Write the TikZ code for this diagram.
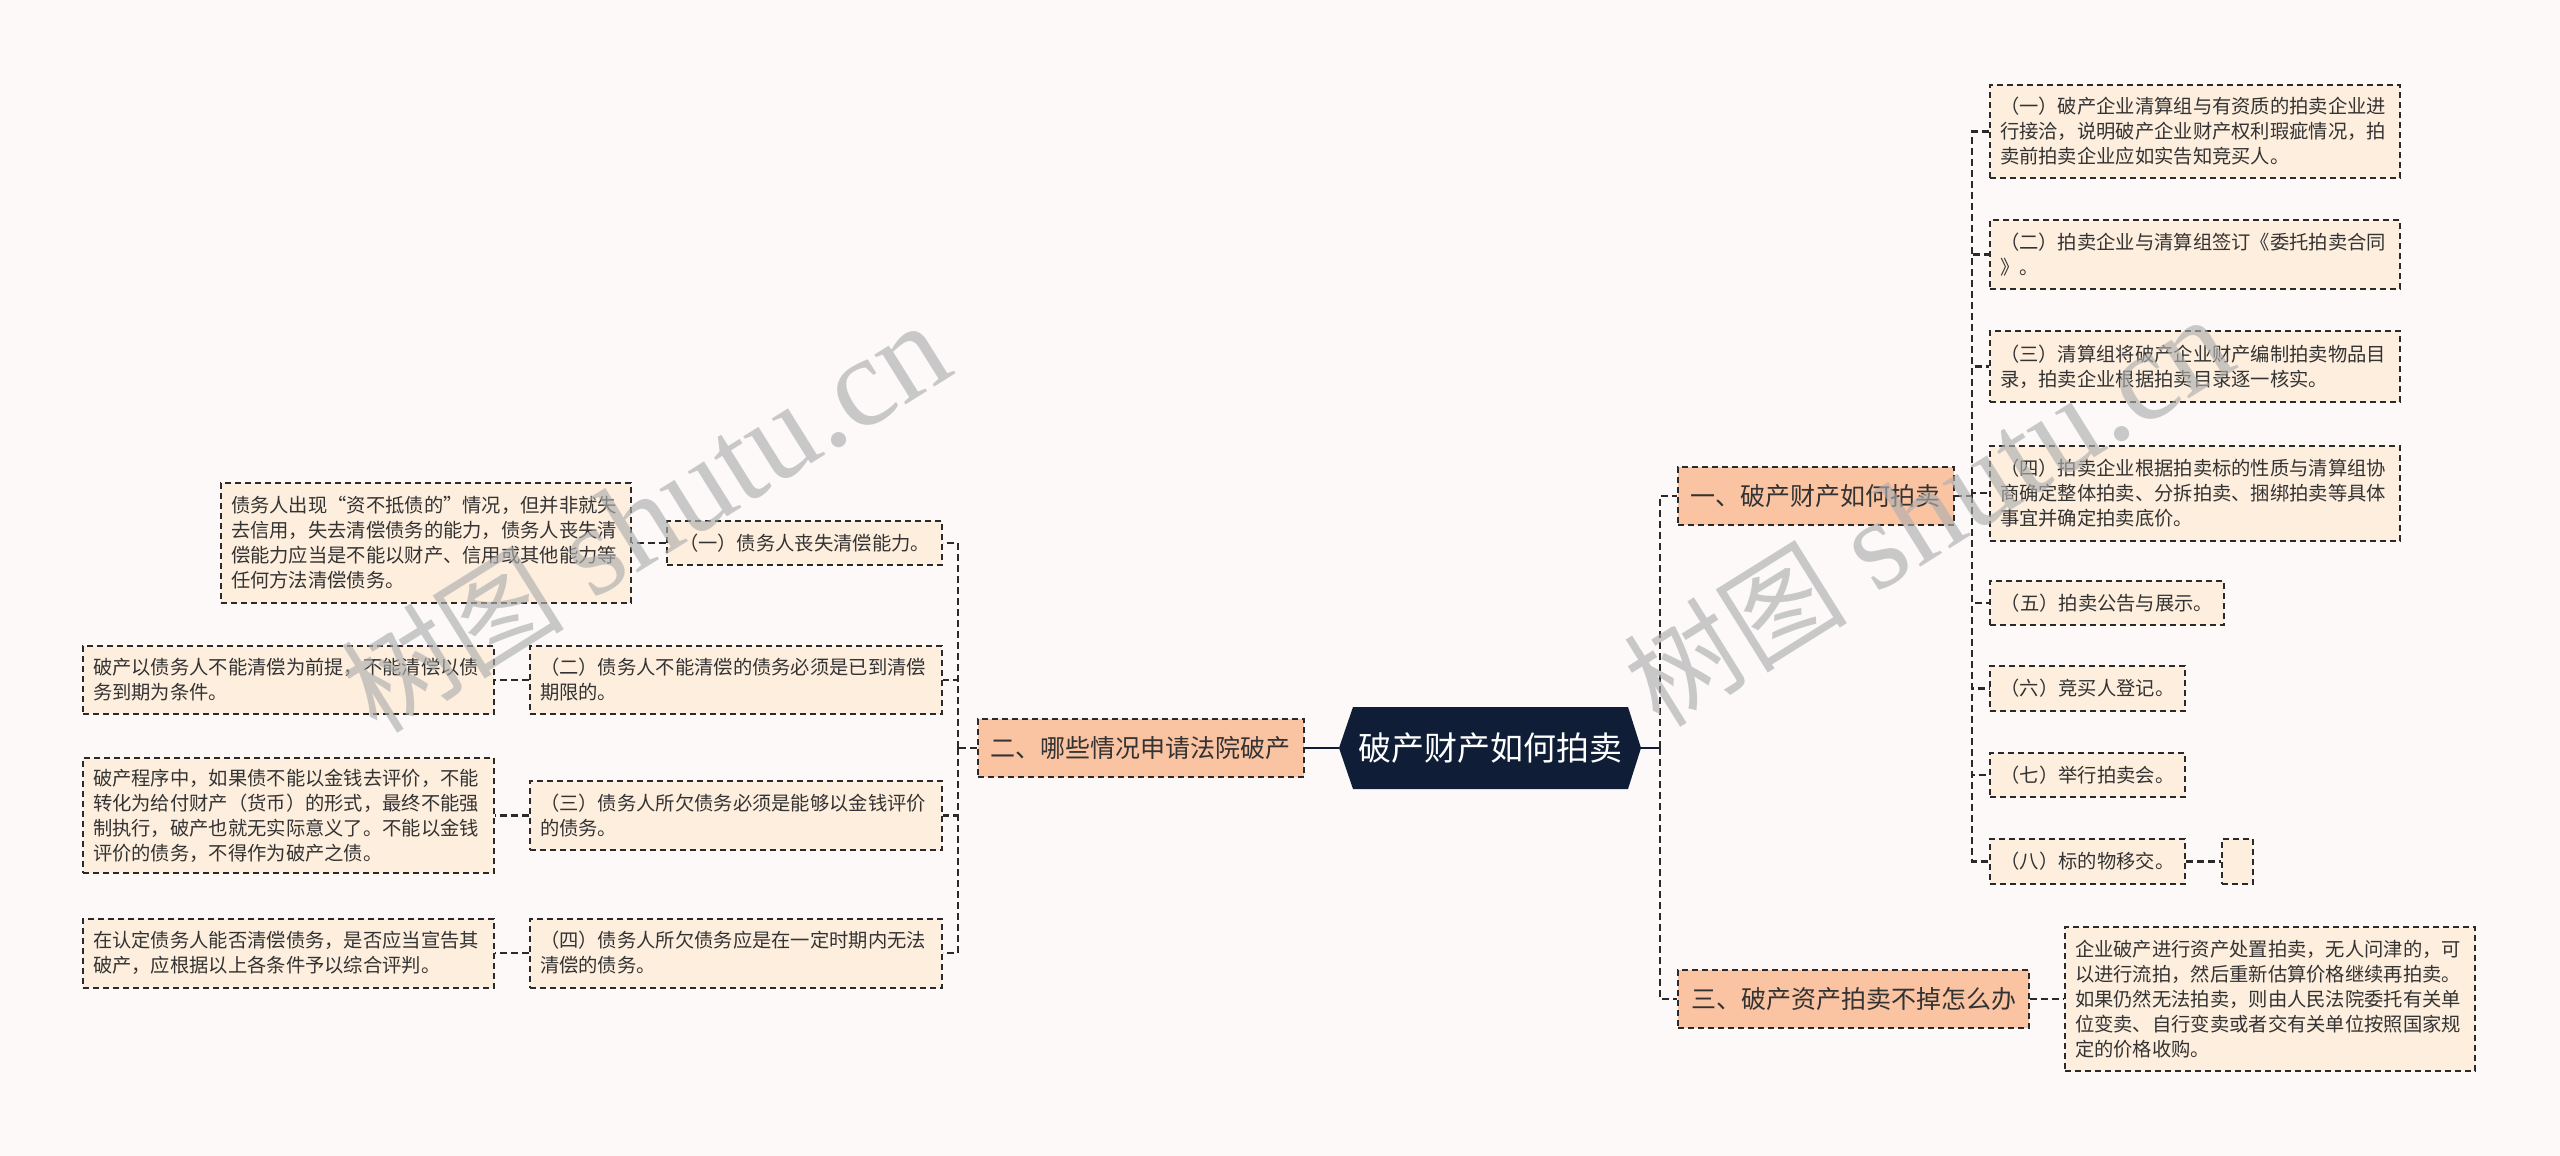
\documentclass[tikz,border=0pt]{standalone}
\usepackage{fontspec}
\setmainfont{Noto Sans CJK SC}
\newfontfamily\wmlatin{Liberation Serif}
\newfontfamily\wmcjk{Noto Sans CJK SC}
\definecolor{bg}{HTML}{FCF9F8}
\definecolor{leaf}{HTML}{FDEEDD}
\definecolor{lone}{HTML}{FAC3A2}
\definecolor{navy}{HTML}{0F1E36}
\definecolor{dkline}{HTML}{2A2A2A}
\definecolor{txt}{HTML}{333333}
\definecolor{wmgray}{HTML}{AFAFAF}
\tikzset{
  leafbox/.style={draw=dkline, line width=2pt, dash pattern=on 6pt off 4pt, fill=leaf, text=txt,
    font=\fontsize{19.3}{25}\selectfont, inner xsep=10pt, inner ysep=0pt, align=left, anchor=center},
  lonebox/.style={draw=dkline, line width=2pt, dash pattern=on 6pt off 4pt, fill=lone, text=txt,
    font=\fontsize{25}{30}\selectfont, inner xsep=13pt, inner ysep=0pt, minimum height=58pt, anchor=center},
  hexnode/.style={minimum width=302pt, minimum height=82pt, inner sep=0pt, text=white,
    font=\fontsize{33}{36}\selectfont},
  conn/.style={draw=dkline, line width=2.2pt, dash pattern=on 7pt off 4pt},
  rootline/.style={draw=navy, line width=2.5pt},
  wm/.style={text=wmgray, text opacity=0.65, inner sep=0pt}
}
\newcommand{\wmtext}{{\wmcjk\fontsize{112}{120}\selectfont 树图}\hspace{30pt}{\wmlatin\fontsize{128}{130}\selectfont shutu.cn}}
\begin{document}
\begin{tikzpicture}[x=1pt, y=-1pt]
\useasboundingbox (0,0) rectangle (2560,1156);
\fill[bg] (0,0) rectangle (2560,1156);

% central hexagon
\fill[navy] (1339,748) -- (1353,707) -- (1628,707) -- (1641,748) -- (1628,789) -- (1353,789) -- cycle;
\node[hexnode] (c) at (1490,748) {破产财产如何拍卖};

% level 1
\node[lonebox] (n1) at (1815.5,496) {一、破产财产如何拍卖};
\node[lonebox] (n2) at (1140.5,748) {二、哪些情况申请法院破产};
\node[lonebox] (n3) at (1853.5,999) {三、破产资产拍卖不掉怎么办};

% right children of n1
\node[leafbox, text width=390pt, minimum height=93pt] (R1) at (2195,131.5)
  {（一）破产企业清算组与有资质的拍卖企业进\\行接洽，说明破产企业财产权利瑕疵情况，拍\\卖前拍卖企业应如实告知竞买人。};
\node[leafbox, text width=390pt, minimum height=69pt] (R2) at (2195,254.5)
  {（二）拍卖企业与清算组签订《委托拍卖合同\\》。};
\node[leafbox, text width=390pt, minimum height=71pt] (R3) at (2195,366.5)
  {（三）清算组将破产企业财产编制拍卖物品目\\录，拍卖企业根据拍卖目录逐一核实。};
\node[leafbox, text width=390pt, minimum height=95pt] (R4) at (2195,493)
  {（四）拍卖企业根据拍卖标的性质与清算组协\\商确定整体拍卖、分拆拍卖、捆绑拍卖等具体\\事宜并确定拍卖底价。};
\node[leafbox, minimum width=234pt, minimum height=44pt] (R5) at (2107,603) {（五）拍卖公告与展示。};
\node[leafbox, minimum width=195pt, minimum height=45pt] (R6) at (2087.5,688.5) {（六）竞买人登记。};
\node[leafbox, minimum width=195pt, minimum height=44pt] (R7) at (2087.5,775) {（七）举行拍卖会。};
\node[leafbox, minimum width=195pt, minimum height=45pt] (R8) at (2087.5,861.5) {（八）标的物移交。};
\node[leafbox, minimum width=31pt, inner xsep=0pt, minimum height=45pt] (E) at (2237.5,861.5) {};

% child of n3
\node[leafbox, text width=390pt, minimum height=144pt] (T1) at (2270,999)
  {企业破产进行资产处置拍卖，无人问津的，可\\以进行流拍，然后重新估算价格继续再拍卖。\\如果仍然无法拍卖，则由人民法院委托有关单\\位变卖、自行变卖或者交有关单位按照国家规\\定的价格收购。};

% left children of n2
\node[leafbox, minimum width=275pt, minimum height=44pt] (L1) at (804.5,543) {（一）债务人丧失清偿能力。};
\node[leafbox, text width=392pt, minimum height=68pt] (L2) at (736,680)
  {（二）债务人不能清偿的债务必须是已到清偿\\期限的。};
\node[leafbox, text width=392pt, minimum height=69pt] (L3) at (736,815.5)
  {（三）债务人所欠债务必须是能够以金钱评价\\的债务。};
\node[leafbox, text width=392pt, minimum height=69pt] (L4) at (736,953)
  {（四）债务人所欠债务应是在一定时期内无法\\清偿的债务。};

% descriptions
\node[leafbox, text width=390pt, minimum height=120pt] (D1) at (426,543)
  {债务人出现“资不抵债的”情况，但并非就失\\去信用，失去清偿债务的能力，债务人丧失清\\偿能力应当是不能以财产、信用或其他能力等\\任何方法清偿债务。};
\node[leafbox, text width=391pt, minimum height=68pt] (D2) at (288.5,680)
  {破产以债务人不能清偿为前提，不能清偿以债\\务到期为条件。};
\node[leafbox, text width=391pt, minimum height=115pt] (D3) at (288.5,815.5)
  {破产程序中，如果债不能以金钱去评价，不能\\转化为给付财产（货币）的形式，最终不能强\\制执行，破产也就无实际意义了。不能以金钱\\评价的债务，不得作为破产之债。};
\node[leafbox, text width=391pt, minimum height=69pt] (D4) at (288.5,953)
  {在认定债务人能否清偿债务，是否应当宣告其\\破产，应根据以上各条件予以综合评判。};

% connectors: root
\coordinate (tr) at (1660,748);
\draw[rootline] (c.east) -- (tr);
\draw[conn] (tr) |- (n1.west);
\draw[conn] (tr) |- (n3.west);
\draw[rootline] (c.west) -- (n2.east);

% n1 children
\coordinate (t1) at (1972,496);
\draw[conn] (n1.east) -- (t1);
\foreach \k in {R1,R2,R3,R4,R5,R6,R7,R8} { \draw[conn] (t1) |- (\k.west); }
\draw[conn] (R8.east) -- (E.west);

% n3 child
\draw[conn] (n3.east) -- (T1.west);

% n2 children
\coordinate (t2) at (958,748);
\draw[conn] (n2.west) -- (t2);
\foreach \k in {L1,L2,L3,L4} { \draw[conn] (t2) |- (\k.east); }
\draw[conn] (L1.west) -- (D1.east);
\draw[conn] (L2.west) -- (D2.east);
\draw[conn] (L3.west) -- (D3.east);
\draw[conn] (L4.west) -- (D4.east);

% watermarks
\node[wm, rotate=32] (wm1) at (645,518) {\wmtext};
\node[wm, rotate=32] (wm2) at (1928,512) {\wmtext};
\end{tikzpicture}
\end{document}
